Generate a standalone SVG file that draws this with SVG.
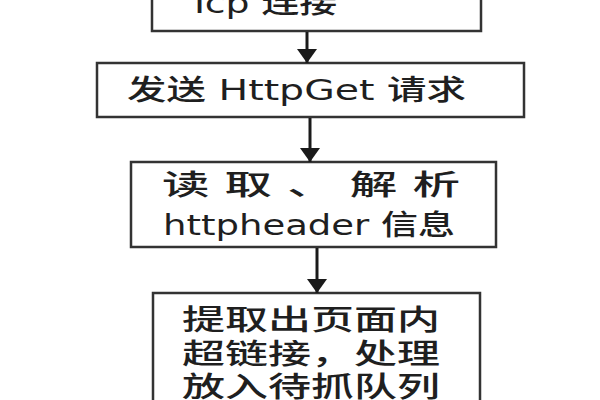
<svg xmlns="http://www.w3.org/2000/svg" width="600" height="400" viewBox="0 0 600 400">
  <defs>
    <marker id="ah" viewBox="0 0 14 20" refX="14" refY="10" markerWidth="14" markerHeight="20" markerUnits="userSpaceOnUse" orient="auto">
      <path d="M0,0 L14,10 L0,20 z" fill="#1a1a1a"/>
    </marker>
    <style>
      .box { fill: #fff; stroke: #333; stroke-width: 2.5; }
      .lbl { font-family: 'DejaVu Sans', 'Noto Sans CJK SC', sans-serif; font-size: 28px; font-weight: 500; fill: #1f1f1f; }
      .con { stroke: #1a1a1a; stroke-width: 3; fill: none; }
    </style>
  </defs>
  <rect width="600" height="400" fill="#fff"/>
  <g id="node-tcp">
    <rect class="box" x="152" y="-40" width="329" height="71"/>
    <text class="lbl" x="188" y="13" textLength="149" lengthAdjust="spacingAndGlyphs">Tcp 连接</text>
  </g>
  <g id="node-httpget">
    <rect class="box" x="97" y="63" width="427" height="54"/>
    <text class="lbl" x="127" y="100" textLength="339" lengthAdjust="spacingAndGlyphs">发送 HttpGet 请求</text>
  </g>
  <g id="node-header">
    <rect class="box" x="131" y="162" width="365" height="85"/>
    <text class="lbl" x="162" y="195" textLength="298" lengthAdjust="spacingAndGlyphs">读 取 、 解 析</text>
    <text class="lbl" x="163" y="235" textLength="292" lengthAdjust="spacingAndGlyphs">httpheader 信息</text>
  </g>
  <g id="node-links">
    <rect class="box" x="153" y="293" width="327" height="140"/>
    <text class="lbl" x="182" y="330" textLength="258" lengthAdjust="spacingAndGlyphs">提取出页面内</text>
    <text class="lbl" x="182" y="364" textLength="258" lengthAdjust="spacingAndGlyphs">超链接，处理</text>
    <text class="lbl" x="182" y="397" textLength="258" lengthAdjust="spacingAndGlyphs">放入待抓队列</text>
  </g>
  <g id="connectors">
    <line class="con" x1="307" y1="32" x2="307" y2="63" marker-end="url(#ah)"/>
    <line class="con" x1="310" y1="118" x2="310" y2="162" marker-end="url(#ah)"/>
    <line class="con" x1="317" y1="248" x2="317" y2="293" marker-end="url(#ah)"/>
  </g>
</svg>
